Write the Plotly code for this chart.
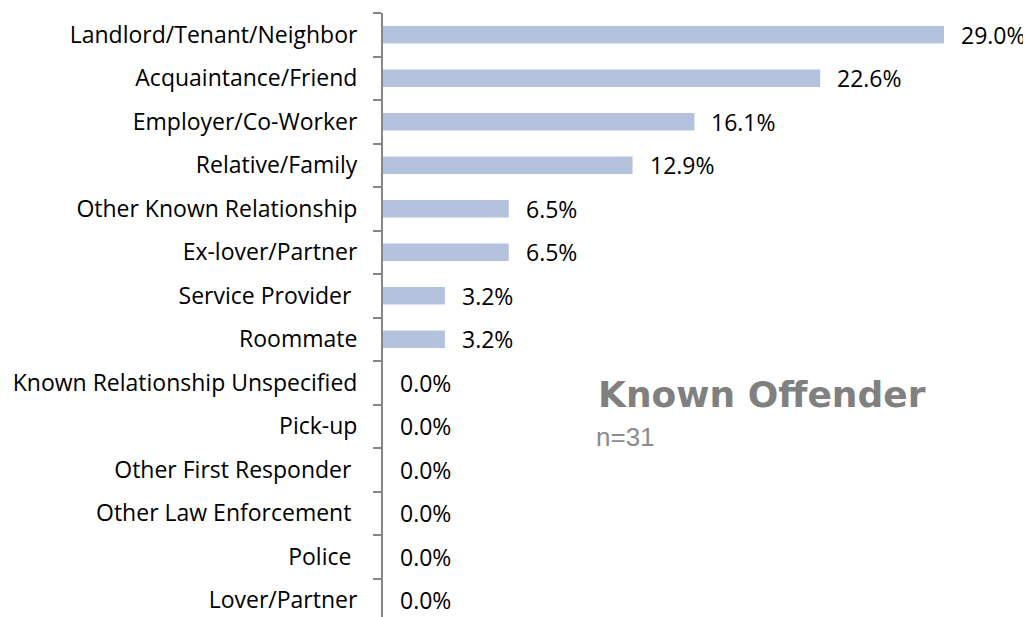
import plotly.graph_objects as go

categories = ["Landlord/Tenant/Neighbor", "Acquaintance/Friend", "Employer/Co-Worker",
              "Relative/Family", "Other Known Relationship", "Ex-lover/Partner",
              "Service Provider\u00a0", "Roommate", "Known Relationship Unspecified",
              "Pick-up", "Other First Responder\u00a0", "Other Law Enforcement\u00a0",
              "Police\u00a0", "Lover/Partner"]
values = [29.0, 22.6, 16.1, 12.9, 6.5, 6.5, 3.2, 3.2, 0.0, 0.0, 0.0, 0.0, 0.0, 0.0]
labels = [f"{v:.1f}%" for v in values]

FONT = "Open Sans"
FS = 23
# page body has an 8px default margin; margins below compensate for it
L, T, B, R = 375, 5, 3, 17
PW = 1031 - L - R
PH = 617 - T - B

fig = go.Figure(go.Bar(
    y=categories, x=values, orientation="h",
    marker=dict(color="#b4c2de", line=dict(width=0)),
    width=0.4, hoverinfo="skip",
))
for c, v, t in zip(categories, values, labels):
    fig.add_annotation(x=v, y=c, text=t, showarrow=False, xanchor="left",
                       xshift=15, font=dict(family=FONT, size=FS, color="#000000"))

fig.add_annotation(xref="paper", yref="paper", x=(596-8-L)/PW, y=(617-B-(386))/PH,
                   text="Known Offender", showarrow=False, xanchor="left", yanchor="middle",
                   font=dict(family="DejaVu Sans", size=36, color="#808080", weight="bold"))
fig.add_annotation(xref="paper", yref="paper", x=(594-8-L)/PW, y=(617-B-(429))/PH,
                   text="n=31", showarrow=False, xanchor="left", yanchor="middle",
                   font=dict(family="Liberation Sans", size=26, color="#8c8c8c"))

fig.update_layout(
    width=1031, height=617, margin=dict(l=L, r=R, t=T, b=B, autoexpand=False),
    paper_bgcolor="white", plot_bgcolor="white", showlegend=False, bargap=0.6,
    xaxis=dict(range=[0, 29.0 * PW / 561], visible=False, automargin=False),
    yaxis=dict(categoryorder="array", categoryarray=categories[::-1], autorange=False,
               range=[-0.5, len(categories)-0.5], automargin=False,
               showline=True, linecolor="#868686", linewidth=2, ticks="outside",
               ticklen=8, tickcolor="#868686", tickwidth=2, tickson="boundaries",
               showgrid=False, ticklabelstandoff=19,
               tickfont=dict(family=FONT, size=FS, color="#000000")),
)
fig.write_html("out.html")
